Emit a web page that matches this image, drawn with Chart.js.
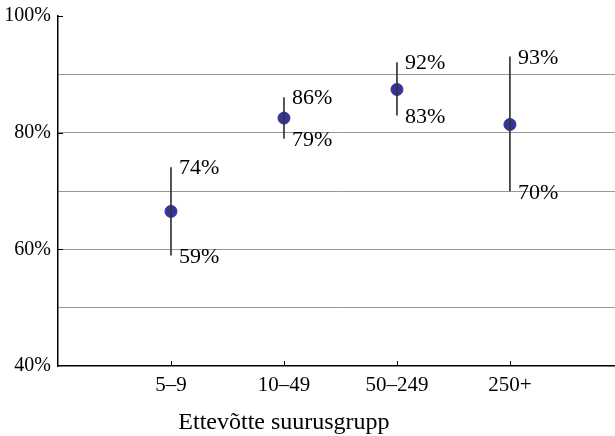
<!DOCTYPE html>
<html>
<head>
<meta charset="utf-8">
<script src="https://cdn.jsdelivr.net/npm/chart.js@4/dist/chart.umd.min.js"></script>
<style>
  html, body { margin: 0; padding: 0; background: #fff; }
  #wrap { width: 615px; height: 436px; }
</style>
</head>
<body>
<div id="wrap"><canvas id="chart"></canvas></div>
<script>
const categories = ["5–9", "10–49", "50–249", "250+"];
const pointValues = [66.5, 82.5, 87.4, 81.4];
const lowerValues = [59, 79, 83, 70];
const upperValues = [74, 86, 92, 93];
const yTicks = [40, 50, 60, 70, 80, 90, 100];

const serif = "'Liberation Serif', 'DejaVu Serif', serif";

// labels next to whisker ends, inner tick marks and the axis title
const extrasPlugin = {
  id: "extras",
  afterDatasetsDraw(chart) {
    const ctx = chart.ctx;
    const xs = chart.scales.x;
    const ys = chart.scales.y;
    const area = chart.chartArea;
    ctx.save();
    ctx.fillStyle = "#000";
    ctx.font = "22px " + serif;
    ctx.textAlign = "left";
    ctx.textBaseline = "middle";
    categories.forEach((cat, i) => {
      const px = xs.getPixelForValue(i + 1);
      ctx.fillText(upperValues[i] + "%", px + 8, ys.getPixelForValue(upperValues[i]) + 1);
      ctx.fillText(lowerValues[i] + "%", px + 8, ys.getPixelForValue(lowerValues[i]) + 2);
    });

    ctx.strokeStyle = "#000";
    ctx.lineWidth = 1;
    ctx.beginPath();
    categories.forEach((cat, i) => {
      const px = Math.round(xs.getPixelForValue(i + 1)) + 0.5;
      ctx.moveTo(px, area.bottom);
      ctx.lineTo(px, area.bottom - 5);
    });
    [60, 80, 100].forEach((v) => {
      const py = Math.round(ys.getPixelForValue(v)) + 0.5;
      ctx.moveTo(area.left, py);
      ctx.lineTo(area.left + 5, py);
    });
    ctx.stroke();

    ctx.font = "24px " + serif;
    ctx.textAlign = "center";
    ctx.textBaseline = "alphabetic";
    ctx.fillText("Ettevõtte suurusgrupp", xs.getPixelForValue(2), 429);
    ctx.restore();
  },
};

new Chart(document.getElementById("chart"), {
  data: {
    datasets: [
      {
        type: "bar",
        data: lowerValues.map((v, i) => ({ x: i + 1, y: [v, upperValues[i]] })),
        backgroundColor: "#333",
        barThickness: 1,
        order: 1,
      },
      {
        type: "scatter",
        data: pointValues.map((v, i) => ({ x: i + 1, y: v })),
        backgroundColor: "#34349a",
        borderColor: "#34349a",
        pointRadius: 6,
        pointHoverRadius: 6,
        order: 2,
      },
    ],
  },
  options: {
    responsive: true,
    maintainAspectRatio: false,
    animation: false,
    layout: {
      autoPadding: false,
      padding: { top: 16, right: 0, left: 0, bottom: 0 },
    },
    plugins: {
      legend: { display: false },
      tooltip: { enabled: false },
    },
    scales: {
      x: {
        type: "linear",
        min: 0,
        max: 4.93,
        offset: false,
        afterBuildTicks: (scale) => {
          scale.ticks = categories.map((c, i) => ({ value: i + 1 }));
        },
        afterFit: (scale) => {
          scale.height = 70;
          scale.paddingLeft = 0;
          scale.paddingRight = 0;
        },
        ticks: {
          autoSkip: false,
          maxRotation: 0,
          padding: 7,
          color: "#000",
          font: { family: serif, size: 21 },
          callback: (value) => categories[value - 1],
        },
        grid: { display: false, drawTicks: false, offset: false },
        border: { display: true, color: "#000", width: 1.5 },
      },
      y: {
        min: 40,
        max: 100,
        afterBuildTicks: (scale) => {
          scale.ticks = yTicks.map((v) => ({ value: v }));
        },
        afterFit: (scale) => {
          scale.width = 58;
          scale.paddingTop = 0;
          scale.paddingBottom = 0;
        },
        ticks: {
          padding: 7,
          color: "#000",
          font: { family: serif, size: 20 },
          callback: (value) => (value % 20 === 0 ? value + "%" : ""),
        },
        grid: {
          drawTicks: false,
          color: (ctx) =>
            ctx.tick && (ctx.tick.value === 100 || ctx.tick.value === 40)
              ? "rgba(0,0,0,0)"
              : "#999",
          lineWidth: 1,
        },
        border: { display: true, color: "#000", width: 1.5 },
      },
    },
  },
  plugins: [extrasPlugin],
});
</script>
</body>
</html>
